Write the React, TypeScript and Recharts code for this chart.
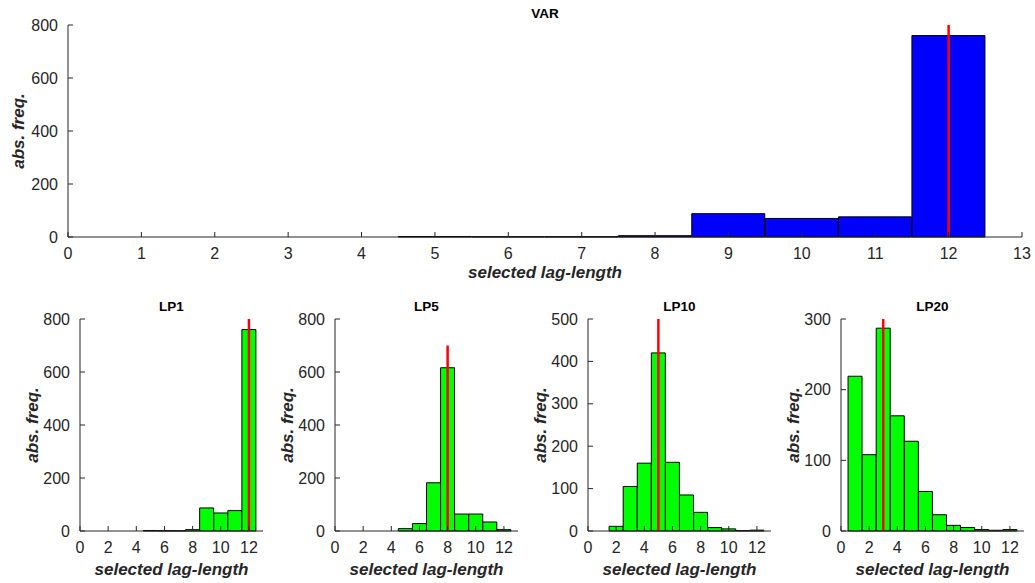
import React from 'react';
import { ComposedChart, Bar, XAxis, YAxis, ReferenceLine } from 'recharts';

// lag-length bins (histogram centres)
const LAGS = [1, 2, 3, 4, 5, 6, 7, 8, 9, 10, 11, 12];

// absolute frequencies
const VAR_FREQ = [0, 0, 0, 0, 2, 1, 1, 5, 88, 70, 76, 760];
const LP1_FREQ = [0, 0, 0, 0, 2, 1, 1, 5, 87, 68, 77, 760];
const LP5_FREQ = [0, 0, 0, 0, 9, 28, 182, 616, 64, 64, 34, 5];
const LP10_FREQ = [0, 11, 105, 160, 420, 162, 85, 44, 8, 5, 1, 2];
const LP20_FREQ = [219, 108, 287, 163, 127, 56, 23, 8, 5, 2, 1, 2];

const X_TICKS_TOP = [0, 1, 2, 3, 4, 5, 6, 7, 8, 9, 10, 11, 12, 13];
const X_TICKS_SMALL = [0, 2, 4, 6, 8, 10, 12];
const Y_TICKS_800 = [0, 200, 400, 600, 800];
const Y_TICKS_500 = [0, 100, 200, 300, 400, 500];
const Y_TICKS_300 = [0, 100, 200, 300];

const FONT = '"Liberation Sans", Arial, Helvetica, sans-serif';
const AXIS = '#262626';

const toRows = (freq: number[]) => LAGS.map((lag, i) => ({ lag, freq: freq[i] }));

interface HistProps {
    title: string;
    freq: number[];
    yMax: number;
    yTicks: number[];
    xTicks: number[];
    mark: number;
    markTop: number;
    fill: string;
    left: number;
    top: number;
    width: number;
    height: number;
    margin: { top: number; right: number; bottom: number; left: number };
    yAxisWidth: number;
    xAxisHeight: number;
    yLabelOffset: number;
    xLabelOffset: number;
    titleY: number;
}

const Hist: React.FC<HistProps> = (p) => {
    const data = toRows(p.freq);
    const plotLeft = p.margin.left + p.yAxisWidth;
    const plotWidth = p.width - plotLeft - p.margin.right;
    const tick = { fontSize: 16, fill: AXIS, fontFamily: FONT };
    const labelStyle = { fontSize: 17, fontWeight: 'bold', fontStyle: 'italic', fill: AXIS, fontFamily: FONT, textAnchor: 'middle' } as any;

    return (
        <div style={{ position: 'absolute', left: p.left, top: p.top, width: p.width, height: p.height }}>
            <div
                style={{
                    position: 'absolute', left: plotLeft, width: plotWidth, top: p.titleY - 7,
                    textAlign: 'center', fontFamily: FONT, fontWeight: 'bold', fontSize: 13.5, lineHeight: '14px', color: '#000',
                }}
            >
                {p.title}
            </div>
            <ComposedChart width={p.width} height={p.height} data={data} margin={p.margin} barCategoryGap={0} barGap={0}>
                <XAxis
                    dataKey="lag"
                    type="number"
                    domain={[0, 13]}
                    ticks={p.xTicks}
                    interval={0}
                    stroke={AXIS}
                    tickSize={-5}
                    tickMargin={16}
                    height={p.xAxisHeight}
                    tick={tick}
                    label={{ value: 'selected lag-length', position: 'insideBottom', offset: p.xLabelOffset, style: labelStyle }}
                />
                <YAxis
                    type="number"
                    domain={[0, p.yMax]}
                    ticks={p.yTicks}
                    interval={0}
                    stroke={AXIS}
                    tickSize={-5}
                    tickMargin={15}
                    width={p.yAxisWidth}
                    tick={tick}
                    label={{ value: 'abs. freq.', angle: -90, position: 'insideLeft', offset: p.yLabelOffset, style: labelStyle }}
                />
                <Bar dataKey="freq" fill={p.fill} stroke="#000" strokeWidth={1} isAnimationActive={false} />
                <ReferenceLine
                    segment={[{ x: p.mark, y: 0 }, { x: p.mark, y: p.markTop }]}
                    stroke="#ff0000"
                    strokeWidth={2.5}
                />
            </ComposedChart>
        </div>
    );
};

const SMALL = {
    top: 290,
    width: 253,
    height: 293,
    margin: { top: 29, right: 8, bottom: 5, left: 0 },
    yAxisWidth: 62,
    xAxisHeight: 47,
    yLabelOffset: 14,
    xLabelOffset: 3,
    titleY: 17,
    xTicks: X_TICKS_SMALL,
    fill: '#00ff00',
};

export default function App() {
    return (
        <div style={{ position: 'absolute', left: 0, top: 0, width: 1035, height: 583, background: '#fff', overflow: 'hidden' }}>
            <Hist
                title="VAR"
                freq={VAR_FREQ}
                yMax={800}
                yTicks={Y_TICKS_800}
                xTicks={X_TICKS_TOP}
                mark={12}
                markTop={800}
                fill="#0000ff"
                left={0}
                top={0}
                width={1035}
                height={290}
                margin={{ top: 25, right: 13, bottom: 9, left: 0 }}
                yAxisWidth={68}
                xAxisHeight={44}
                yLabelOffset={18}
                xLabelOffset={3}
                titleY={14}
            />
            <Hist {...SMALL} title="LP1" freq={LP1_FREQ} yMax={800} yTicks={Y_TICKS_800} mark={12} markTop={800} left={18} />
            <Hist {...SMALL} title="LP5" freq={LP5_FREQ} yMax={800} yTicks={Y_TICKS_800} mark={8} markTop={700} left={273} />
            <Hist {...SMALL} title="LP10" freq={LP10_FREQ} yMax={500} yTicks={Y_TICKS_500} mark={5} markTop={500} left={526} />
            <Hist {...SMALL} title="LP20" freq={LP20_FREQ} yMax={300} yTicks={Y_TICKS_300} mark={3} markTop={300} left={779} />
        </div>
    );
}
